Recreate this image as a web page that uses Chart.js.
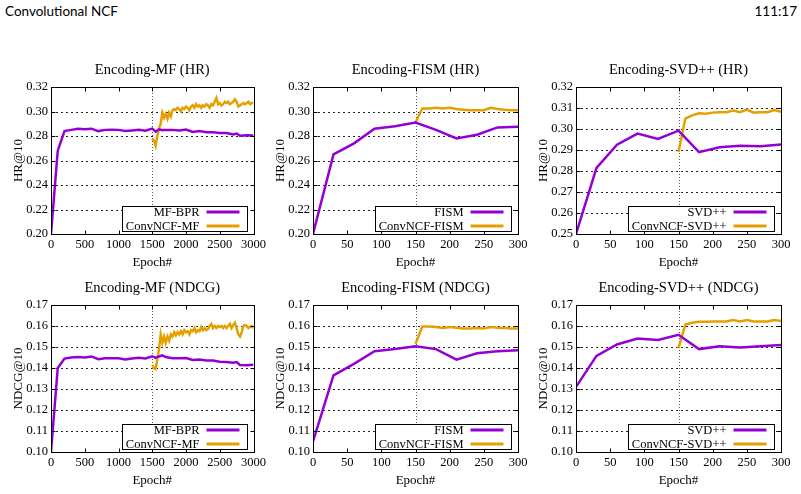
<!DOCTYPE html>
<html>
<head>
<meta charset="utf-8">
<script src="https://cdn.jsdelivr.net/npm/chart.js@4.4.0/dist/chart.umd.min.js"></script>
<style>
  body { margin: 0; background: #fff; width: 801px; height: 494px; position: relative; overflow: hidden; }
  canvas { position: absolute; }
  .hdr { position: absolute; top: 3px; font-family: Lato, sans-serif; font-size: 13.5px; color: #000; }
</style>
</head>
<body>
<div class="hdr" style="left:5px">Convolutional NCF</div>
<div class="hdr" style="right:4px">111:17</div>
<canvas id="c1" width="269" height="220" style="left:0px;top:50px"></canvas>
<canvas id="c2" width="270" height="220" style="left:262px;top:50px"></canvas>
<canvas id="c3" width="270" height="220" style="left:525px;top:50px"></canvas>
<canvas id="c4" width="269" height="220" style="left:0px;top:268px"></canvas>
<canvas id="c5" width="270" height="220" style="left:262px;top:268px"></canvas>
<canvas id="c6" width="270" height="220" style="left:525px;top:268px"></canvas>
<script>
// ---- data ----
const mfBprEpochs = [0, 100, 200, 300, 400, 500, 600, 700, 800, 900, 1000, 1100, 1200, 1300, 1400, 1500, 1550, 1600, 1650, 1700, 1800, 1900, 2000, 2100, 2200, 2300, 2400, 2500, 2600, 2700, 2750, 2800, 2900, 3000];
const mfBprHR = [0.200, 0.268, 0.284, 0.285, 0.286, 0.2855, 0.286, 0.284, 0.285, 0.2852, 0.285, 0.284, 0.2845, 0.285, 0.2843, 0.286, 0.2835, 0.2855, 0.2848, 0.285, 0.285, 0.2845, 0.2852, 0.2833, 0.284, 0.283, 0.283, 0.2825, 0.2825, 0.2812, 0.282, 0.2802, 0.2807, 0.2805];
const mfBprNDCG = [0.100, 0.140, 0.1445, 0.145, 0.1452, 0.145, 0.1455, 0.1442, 0.1446, 0.1447, 0.1446, 0.1441, 0.1445, 0.1449, 0.1445, 0.1456, 0.1448, 0.1455, 0.146, 0.1452, 0.1447, 0.1446, 0.1447, 0.1438, 0.1441, 0.1436, 0.1436, 0.143, 0.1428, 0.1425, 0.1428, 0.1414, 0.1413, 0.1415];

const convMfEpochs = [1500, 1525, 1550, 1575, 1600, 1625, 1650, 1675, 1700, 1725, 1750, 1775, 1800, 1825, 1850, 1875, 1900, 1925, 1950, 1975, 2000, 2025, 2050, 2075, 2100, 2125, 2150, 2175, 2200, 2225, 2250, 2275, 2300, 2325, 2350, 2375, 2400, 2425, 2450, 2475, 2500, 2525, 2550, 2575, 2600, 2625, 2650, 2675, 2700, 2725, 2750, 2775, 2800, 2825, 2850, 2875, 2900, 2925, 2950, 2975, 3000];
const convMfHR = [0.278, 0.276, 0.272, 0.280, 0.286, 0.290, 0.299, 0.295, 0.298, 0.294,
  0.299, 0.296, 0.301, 0.302, 0.301, 0.303, 0.302, 0.300, 0.303, 0.302,
  0.304, 0.303, 0.301, 0.304, 0.305, 0.303, 0.306, 0.304, 0.305, 0.303,
  0.305, 0.304, 0.306, 0.305, 0.303, 0.306, 0.305, 0.308, 0.311, 0.306,
  0.307, 0.305, 0.306, 0.308, 0.307, 0.308, 0.306, 0.307, 0.308, 0.310,
  0.308, 0.304, 0.305, 0.306, 0.307, 0.306, 0.307, 0.308, 0.306, 0.307,
  0.307];
const convMfNDCG = [0.1415, 0.140, 0.1395, 0.144, 0.149, 0.156, 0.152, 0.155, 0.152, 0.155,
  0.153, 0.156, 0.155, 0.157, 0.1555, 0.157, 0.156, 0.1575, 0.156, 0.158,
  0.157, 0.1575, 0.156, 0.158, 0.1575, 0.159, 0.157, 0.158, 0.1575, 0.1595,
  0.158, 0.159, 0.158, 0.1585, 0.160, 0.161, 0.159, 0.160, 0.159, 0.160,
  0.1595, 0.160, 0.159, 0.160, 0.159, 0.160, 0.161, 0.159, 0.1605, 0.1615,
  0.159, 0.156, 0.155, 0.157, 0.160, 0.1605, 0.160, 0.159, 0.1595, 0.160,
  0.159];

const baseEpochs = [0, 30, 60, 90, 120, 150, 180, 210, 240, 270, 300];
const convEpochs = [150, 160, 170, 180, 190, 200, 210, 220, 230, 240, 250, 260, 270, 280, 290, 300];

const fismHR = [0.200, 0.265, 0.274, 0.286, 0.288, 0.291, 0.285, 0.278, 0.281, 0.287, 0.2875];
const convFismHR = [0.291, 0.3025, 0.3025, 0.303, 0.3025, 0.303, 0.302, 0.3015, 0.301, 0.301, 0.301, 0.303, 0.302, 0.3015, 0.301, 0.301];
const fismNDCG = [0.105, 0.1365, 0.142, 0.148, 0.149, 0.1503, 0.149, 0.144, 0.147, 0.148, 0.1485];
const convFismNDCG = [0.1515, 0.1598, 0.1598, 0.1595, 0.159, 0.1595, 0.1592, 0.1588, 0.1588, 0.159, 0.1588, 0.1595, 0.1592, 0.159, 0.1588, 0.1588];

const svdHR = [0.250, 0.2815, 0.2925, 0.2978, 0.2953, 0.2992, 0.289, 0.2913, 0.292, 0.2918, 0.2926];
const convSvdHR = [0.289, 0.305, 0.3065, 0.3075, 0.3073, 0.3078, 0.308, 0.308, 0.3088, 0.308, 0.3092, 0.3078, 0.308, 0.308, 0.309, 0.3082];
const svdNDCG = [0.131, 0.1458, 0.1512, 0.154, 0.1533, 0.1558, 0.149, 0.1503, 0.1498, 0.1503, 0.151];
const convSvdNDCG = [0.1495, 0.1607, 0.1615, 0.162, 0.162, 0.1622, 0.1622, 0.1622, 0.1628, 0.1622, 0.1628, 0.1622, 0.1622, 0.1622, 0.1628, 0.1624];

const PURPLE = '#9400d3';
const ORANGE = '#e69f00';
const SERIF = '"Liberation Serif", "Times New Roman", serif';

Chart.defaults.color = '#000';
Chart.defaults.font.family = SERIF;

function pts(xs, ys) {
  return xs.map((x, i) => ({ x: x, y: ys[i] }));
}

// gnuplot-like frame: title over the plot, dotted grid, split marker, inner ticks, boxed key
const gnuplotLook = {
  id: 'gnuplotLook',
  beforeDatasetsDraw(chart, args, opts) {
    const { ctx, chartArea: a, scales: { x, y } } = chart;
    ctx.save();
    ctx.fillStyle = '#000';
    ctx.font = '14.5px ' + SERIF;
    ctx.textAlign = 'center';
    ctx.textBaseline = 'middle';
    ctx.fillText(opts.title, (a.left + a.right) / 2, a.top - 17);

    ctx.strokeStyle = '#222';
    ctx.lineWidth = 1;
    ctx.setLineDash([2, 3]);
    y.ticks.forEach(t => {
      if (t.value <= y.min + 1e-9 || t.value >= y.max - 1e-9) return;
      const py = Math.round(y.getPixelForValue(t.value)) + 0.5;
      ctx.beginPath(); ctx.moveTo(a.left, py); ctx.lineTo(a.right, py); ctx.stroke();
    });
    ctx.strokeStyle = '#555';
    ctx.setLineDash([1, 2]);
    const px = Math.round(x.getPixelForValue(opts.split)) + 0.5;
    ctx.beginPath(); ctx.moveTo(px, a.top); ctx.lineTo(px, a.bottom); ctx.stroke();
    ctx.restore();
  },
  afterDatasetsDraw(chart) {
    const { ctx, chartArea: a, scales: { x, y } } = chart;
    ctx.save();
    ctx.strokeStyle = '#000';
    ctx.lineWidth = 1;
    ctx.setLineDash([]);
    const L = Math.round(a.left) + 0.5, R = Math.round(a.right) + 0.5;
    const T = Math.round(a.top) + 0.5, B = Math.round(a.bottom) + 0.5;
    ctx.beginPath();
    x.ticks.forEach(t => {
      const px = Math.round(x.getPixelForValue(t.value)) + 0.5;
      ctx.moveTo(px, B); ctx.lineTo(px, B - 4);
      ctx.moveTo(px, T); ctx.lineTo(px, T + 4);
    });
    y.ticks.forEach(t => {
      const py = Math.round(y.getPixelForValue(t.value)) + 0.5;
      ctx.moveTo(L, py); ctx.lineTo(L + 4, py);
      ctx.moveTo(R, py); ctx.lineTo(R - 4, py);
    });
    ctx.stroke();
    ctx.strokeRect(L, T, R - L, B - T);

    // key box, bottom right inside the plot
    const sets = chart.data.datasets;
    ctx.font = '12.5px ' + SERIF;
    const tw = Math.max(...sets.map(d => ctx.measureText(d.label).width));
    const boxR = Math.round(a.right - 7) + 0.5;
    const boxB = Math.round(a.bottom - 3) + 0.5;
    const boxW = tw + 4 + 7 + 33 + 8;
    const boxH = 25;
    const boxL = Math.round(boxR - boxW) + 0.5;
    ctx.fillStyle = '#fff';
    ctx.fillRect(boxL, boxB - boxH, boxR - boxL, boxH);
    ctx.strokeRect(boxL, boxB - boxH, boxR - boxL, boxH);
    ctx.textAlign = 'right';
    ctx.textBaseline = 'middle';
    sets.forEach((d, i) => {
      const cy = boxB - boxH + 5.5 + i * 14;
      ctx.fillStyle = '#000';
      ctx.fillText(d.label, boxR - 48, cy + 0.5);
      ctx.strokeStyle = d.borderColor;
      ctx.lineWidth = 3;
      ctx.beginPath(); ctx.moveTo(boxR - 41, cy); ctx.lineTo(boxR - 8, cy); ctx.stroke();
    });
    ctx.restore();
  }
};

function makeChart(id, title, yLabel, yMin, yMax, yStep, xMax, xStep, split, series) {
  new Chart(document.getElementById(id), {
    type: 'line',
    data: {
      datasets: series.map(s => ({
        label: s.label,
        data: s.data,
        borderColor: s.color,
        backgroundColor: s.color,
        borderWidth: 2.5,
        pointRadius: 0,
        tension: 0,
        fill: false
      }))
    },
    options: {
      responsive: false,
      animation: false,
      events: [],
      layout: { padding: { left: 0, right: 14, top: 37, bottom: 0 } },
      plugins: {
        legend: { display: false },
        tooltip: { enabled: false },
        title: { display: false },
        gnuplotLook: { split: split, title: title }
      },
      scales: {
        x: {
          type: 'linear',
          min: 0, max: xMax,
          ticks: { stepSize: xStep, padding: 3, maxRotation: 0, font: { size: 12.5 }, color: '#000', callback: v => String(v) },
          grid: { display: false, drawTicks: false },
          border: { display: false },
          title: { display: true, text: 'Epoch#', font: { size: 13 }, padding: { top: 0, bottom: 0 } },
          afterFit(s) { s.height = 36; }
        },
        y: {
          type: 'linear',
          min: yMin, max: yMax,
          ticks: { stepSize: yStep, padding: 3, font: { size: 12.5 }, color: '#000', callback: v => v.toFixed(2) },
          grid: { display: false, drawTicks: false },
          border: { display: false },
          title: { display: true, text: yLabel, font: { size: 13 }, padding: { top: 11, bottom: 0 } },
          afterFit(s) { s.width = 51; }
        }
      }
    },
    plugins: [gnuplotLook]
  });
}

makeChart('c1', 'Encoding-MF (HR)', 'HR@10', 0.20, 0.32, 0.02, 3000, 500, 1500, [
  { label: 'MF-BPR', color: PURPLE, data: pts(mfBprEpochs, mfBprHR) },
  { label: 'ConvNCF-MF', color: ORANGE, data: pts(convMfEpochs, convMfHR) }
]);
makeChart('c2', 'Encoding-FISM (HR)', 'HR@10', 0.20, 0.32, 0.02, 300, 50, 150, [
  { label: 'FISM', color: PURPLE, data: pts(baseEpochs, fismHR) },
  { label: 'ConvNCF-FISM', color: ORANGE, data: pts(convEpochs, convFismHR) }
]);
makeChart('c3', 'Encoding-SVD++ (HR)', 'HR@10', 0.25, 0.32, 0.01, 300, 50, 150, [
  { label: 'SVD++', color: PURPLE, data: pts(baseEpochs, svdHR) },
  { label: 'ConvNCF-SVD++', color: ORANGE, data: pts(convEpochs, convSvdHR) }
]);
makeChart('c4', 'Encoding-MF (NDCG)', 'NDCG@10', 0.10, 0.17, 0.01, 3000, 500, 1500, [
  { label: 'MF-BPR', color: PURPLE, data: pts(mfBprEpochs, mfBprNDCG) },
  { label: 'ConvNCF-MF', color: ORANGE, data: pts(convMfEpochs, convMfNDCG) }
]);
makeChart('c5', 'Encoding-FISM (NDCG)', 'NDCG@10', 0.10, 0.17, 0.01, 300, 50, 150, [
  { label: 'FISM', color: PURPLE, data: pts(baseEpochs, fismNDCG) },
  { label: 'ConvNCF-FISM', color: ORANGE, data: pts(convEpochs, convFismNDCG) }
]);
makeChart('c6', 'Encoding-SVD++ (NDCG)', 'NDCG@10', 0.10, 0.17, 0.01, 300, 50, 150, [
  { label: 'SVD++', color: PURPLE, data: pts(baseEpochs, svdNDCG) },
  { label: 'ConvNCF-SVD++', color: ORANGE, data: pts(convEpochs, convSvdNDCG) }
]);
</script>
</body>
</html>
